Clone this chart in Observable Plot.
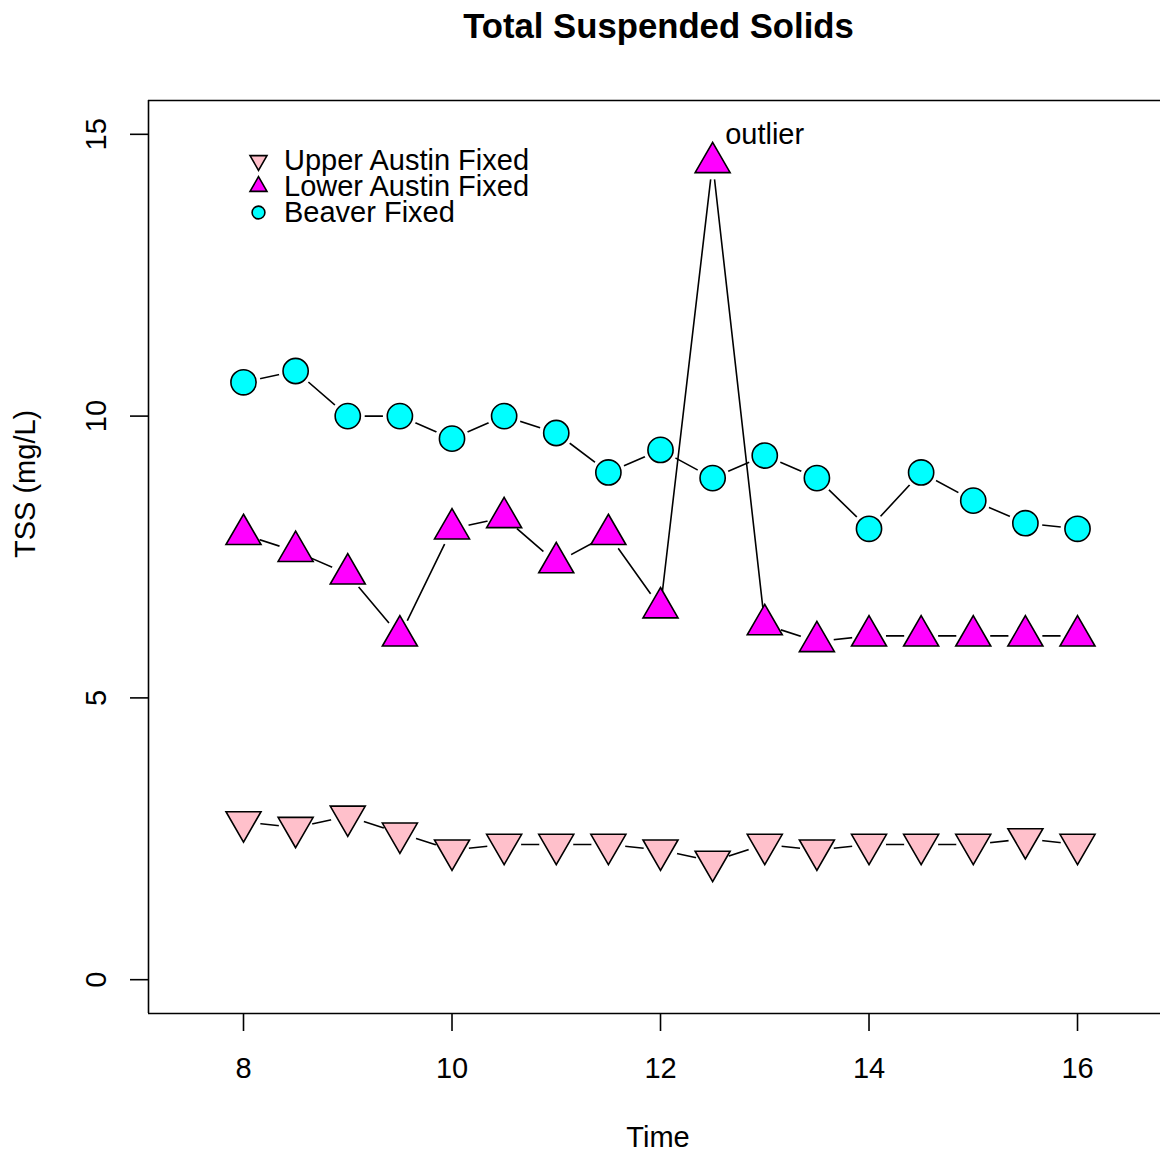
<!DOCTYPE html>
<html>
<head>
<meta charset="utf-8">
<script src="https://cdn.jsdelivr.net/npm/d3@7"></script>
<script src="https://cdn.jsdelivr.net/npm/@observablehq/plot@0.6"></script>
<style>
  html, body { margin: 0; padding: 0; background: #fff; overflow: hidden; }
  #chart svg { display: block; }
</style>
</head>
<body>
<div id="chart"></div>
<script>
// ---- data ----
const times = [8, 8.5, 9, 9.5, 10, 10.5, 11, 11.5, 12, 12.5, 13, 13.5, 14, 14.5, 15, 15.5, 16];
const upperAustin = [2.8, 2.7, 2.9, 2.6, 2.3, 2.4, 2.4, 2.4, 2.3, 2.1, 2.4, 2.3, 2.4, 2.4, 2.4, 2.5, 2.4];
const lowerAustin = [7.9, 7.6, 7.2, 6.1, 8.0, 8.2, 7.4, 7.9, 6.6, 14.5, 6.3, 6.0, 6.1, 6.1, 6.1, 6.1, 6.1];
const beaver = [10.6, 10.8, 10.0, 10.0, 9.6, 10.0, 9.7, 9.0, 9.4, 8.9, 9.3, 8.9, 8.0, 9.0, 8.5, 8.1, 8.0];
const seriesNames = ["Upper Austin Fixed", "Lower Austin Fixed", "Beaver Fixed"];
const seriesFills = ["pink", "magenta", "cyan"];
const xTicks = [8, 10, 12, 14, 16];
const yTicks = [0, 5, 10, 15];
const titleText = "Total Suspended Solids";
const xLabel = "Time";
const yLabel = "TSS (mg/L)";
const outlierNote = [{t: 12.5, v: 15, label: "outlier"}];

// ---- symbols ----
const S3 = Math.sqrt(3);
const triangleDown = {
  draw(context, size) {
    const y = Math.sqrt(size / (S3 * 3));
    context.moveTo(0, 2 * y);
    context.lineTo(-S3 * y, -y);
    context.lineTo(S3 * y, -y);
    context.closePath();
  }
};
const seriesSymbols = [triangleDown, "triangle", "circle"];
const seriesR = [13, 13, 12.6];
const legendR = [6.3, 6.3, 6.4];

const seriesValues = [upperAustin, lowerAustin, beaver];
const rows = seriesValues.map(vals => times.map((t, i) => ({t, v: vals[i]})));

const xDomain = [7.0887, 16.796];
const yDomain = [-0.6, 15.6];
const LW = 1.6;

const marks = [];
// series: line, white gap halo, symbols (R type = "b" look)
rows.forEach((data, k) => {
  marks.push(Plot.line(data, {x: "t", y: "v", stroke: "black", strokeWidth: LW}));
  marks.push(Plot.dot(data, {x: "t", y: "v", r: 17, fill: "white", stroke: "none", symbol: "circle"}));
  marks.push(Plot.dot(data, {x: "t", y: "v", r: seriesR[k], symbol: seriesSymbols[k], fill: seriesFills[k], stroke: "black", strokeWidth: LW, strokeLinejoin: "miter"}));
});

// frame (left, top, bottom)
marks.push(Plot.ruleX([xDomain[0]], {stroke: "black", strokeWidth: LW}));
marks.push(Plot.ruleY([yDomain[0], yDomain[1]], {stroke: "black", strokeWidth: LW}));

// axes
marks.push(Plot.axisX(xTicks, {anchor: "bottom", tickSize: 18, tickPadding: 25.7, fontSize: 29, strokeWidth: LW, label: null, color: "black", tickFormat: d => String(d)}));
marks.push(Plot.axisY(yTicks, {anchor: "left", tickSize: 18, tickPadding: 24.6, tickRotate: -90, fontSize: 29, strokeWidth: LW, label: null, color: "black", tickFormat: d => String(d)}));

// axis titles and main title
marks.push(Plot.text([titleText], {frameAnchor: "top", lineAnchor: "middle", dx: 4, dy: -73.4, fontSize: 34.7, fontWeight: "bold", fill: "black"}));
marks.push(Plot.text([xLabel], {frameAnchor: "bottom", lineAnchor: "middle", dx: 3.5, dy: 124.5, fontSize: 29, fill: "black"}));
marks.push(Plot.text([yLabel], {frameAnchor: "left", lineAnchor: "middle", dx: -122.3, dy: 1, rotate: -90, fontSize: 29, fill: "black"}));

// outlier annotation
marks.push(Plot.text(outlierNote, {x: "t", y: "v", text: "label", dx: 12.5, textAnchor: "start", lineAnchor: "middle", fontSize: 29, fill: "black"}));

// legend
seriesNames.forEach((name, k) => {
  marks.push(Plot.dot([name], {frameAnchor: "top-left", dx: 110, dy: 60 + 26 * k, r: legendR[k], symbol: seriesSymbols[k], fill: seriesFills[k], stroke: "black", strokeWidth: LW}));
  marks.push(Plot.text([name], {frameAnchor: "top-left", dx: 135.5, dy: 60 + 26 * k, textAnchor: "start", lineAnchor: "middle", fontSize: 29, fill: "black"}));
});

const chart = Plot.plot({
  width: 1160,
  height: 1152,
  marginLeft: 148,
  marginRight: 0,
  marginTop: 100,
  marginBottom: 139,
  x: {domain: xDomain, axis: null},
  y: {domain: yDomain, axis: null},
  style: {fontFamily: "'Liberation Sans', Arial, Helvetica, sans-serif", fontSize: "29px", background: "white", color: "black", overflow: "visible"},
  marks
});
document.getElementById("chart").appendChild(chart);
</script>
</body>
</html>
